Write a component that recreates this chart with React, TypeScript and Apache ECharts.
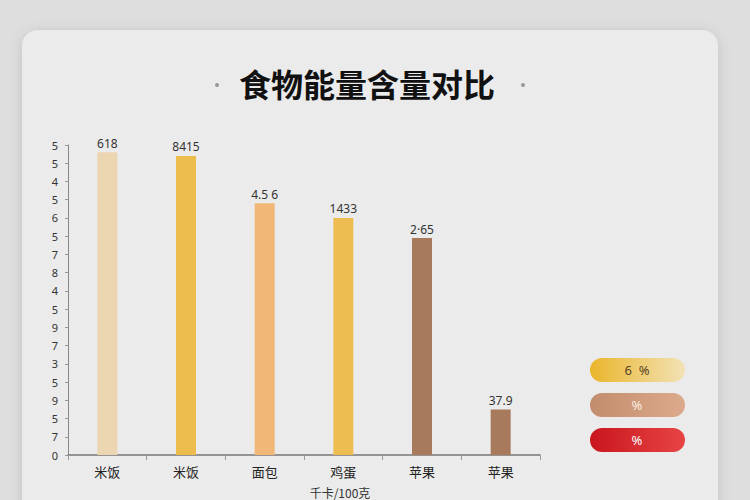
import { useEffect, useRef } from "react";
import * as echarts from "echarts";

const categories = ["米饭", "米饭", "面包", "鸡蛋", "苹果", "苹果"];
const values = [166, 164, 138, 130, 119, 25];
const barLabels = ["618", "8415", "4.5 6", "1433", "2·65", "37.9"];
const barColors = ["#ecd6b2", "#ecbc4c", "#f0b777", "#eebd52", "#a87a5c", "#a87a5c"];
// y tick labels from bottom (0) to top
const tickLabels = ["0", "7", "5", "9", "5", "3", "7", "9", "5", "4", "8", "7", "5", "6", "5", "4", "5", "5"];
const legendTexts = ["6  %", "%", "%"];
const legendColors = [
  ["#eab52a", "#f2e2b6"],
  ["#c28d6c", "#dcaa8c"],
  ["#c8161e", "#e84444"],
];
const legendTextColors = ["#5a4424", "#f7ece2", "#ffffff"];

const FONT = "'Noto Sans CJK SC', 'Noto Sans', sans-serif";
const NUM_FONT = "'Noto Sans', 'Noto Sans CJK SC', sans-serif";

export default function App() {
  const ref = useRef<HTMLDivElement | null>(null);

  useEffect(() => {
    document.body.style.margin = "0";
    if (!ref.current) return;
    const chart = echarts.init(ref.current, null, { renderer: "svg" });

    const legendGraphics = legendTexts.map((t, i) => ({
      type: "group",
      x: 590,
      y: 358 + i * 35,
      children: [
        {
          type: "rect",
          shape: { x: 0, y: 0, width: 95, height: 24, r: 12 },
          style: {
            fill: new echarts.graphic.LinearGradient(0, 0, 1, 0, [
              { offset: 0, color: legendColors[i][0] },
              { offset: 1, color: legendColors[i][1] },
            ]),
          },
        },
        {
          type: "text",
          x: 47,
          y: 12,
          style: {
            text: t,
            fill: legendTextColors[i],
            font: `13px ${NUM_FONT}`,
            align: "center",
            verticalAlign: "middle",
          },
        },
      ],
    }));

    chart.setOption({
      animation: false,
      backgroundColor: "#dedede",
      graphic: [
        {
          type: "rect",
          z: -10,
          shape: { x: 22, y: 30, width: 696, height: 500, r: 16 },
          style: {
            fill: "#ebebeb",
            shadowBlur: 14,
            shadowColor: "rgba(0,0,0,0.12)",
            shadowOffsetY: 2,
          },
        },
        {
          type: "text",
          x: 367,
          y: 83,
          style: {
            text: "食物能量含量对比",
            fill: "#111",
            font: `bold 32px ${FONT}`,
            align: "center",
            verticalAlign: "middle",
          },
        },
        { type: "circle", shape: { cx: 217, cy: 85, r: 2 }, style: { fill: "#999" } },
        { type: "circle", shape: { cx: 523, cy: 85, r: 2 }, style: { fill: "#999" } },
        ...legendGraphics,
      ],
      grid: { left: 68, right: 210, top: 145, bottom: 45, outerBoundsMode: "none" },
      xAxis: {
        type: "category",
        data: categories,
        name: "千卡/100克",
        nameLocation: "middle",
        nameGap: 31,
        nameTextStyle: { color: "#333", fontSize: 12, fontFamily: FONT, padding: [0, 0, 0, 72] },
        axisLine: { lineStyle: { color: "#777", width: 1.5 } },
        axisTick: { show: true, lineStyle: { color: "#999" } },
        axisLabel: { color: "#222", fontSize: 13, fontFamily: FONT, margin: 10 },
      },
      yAxis: {
        type: "value",
        min: 0,
        max: 170,
        interval: 10,
        splitLine: { show: false },
        axisLine: { show: true, lineStyle: { color: "#888" } },
        axisTick: { show: true, length: 3, lineStyle: { color: "#999" } },
        axisLabel: {
          color: "#333",
          fontSize: 11,
          fontFamily: NUM_FONT,
          margin: 10,
          formatter: (v: number) => tickLabels[Math.round(v / 10)] ?? "",
        },
      },
      series: [
        {
          type: "bar",
          barWidth: 20,
          data: values.map((v, i) => ({ value: v, itemStyle: { color: barColors[i] } })),
          label: {
            show: true,
            position: "top",
            distance: 3,
            color: "#333",
            fontSize: 12,
            fontFamily: NUM_FONT,
            formatter: (p: any) => barLabels[p.dataIndex],
          },
        },
      ],
    });

    return () => chart.dispose();
  }, []);

  return <div ref={ref} style={{ width: 750, height: 500 }} />;
}
